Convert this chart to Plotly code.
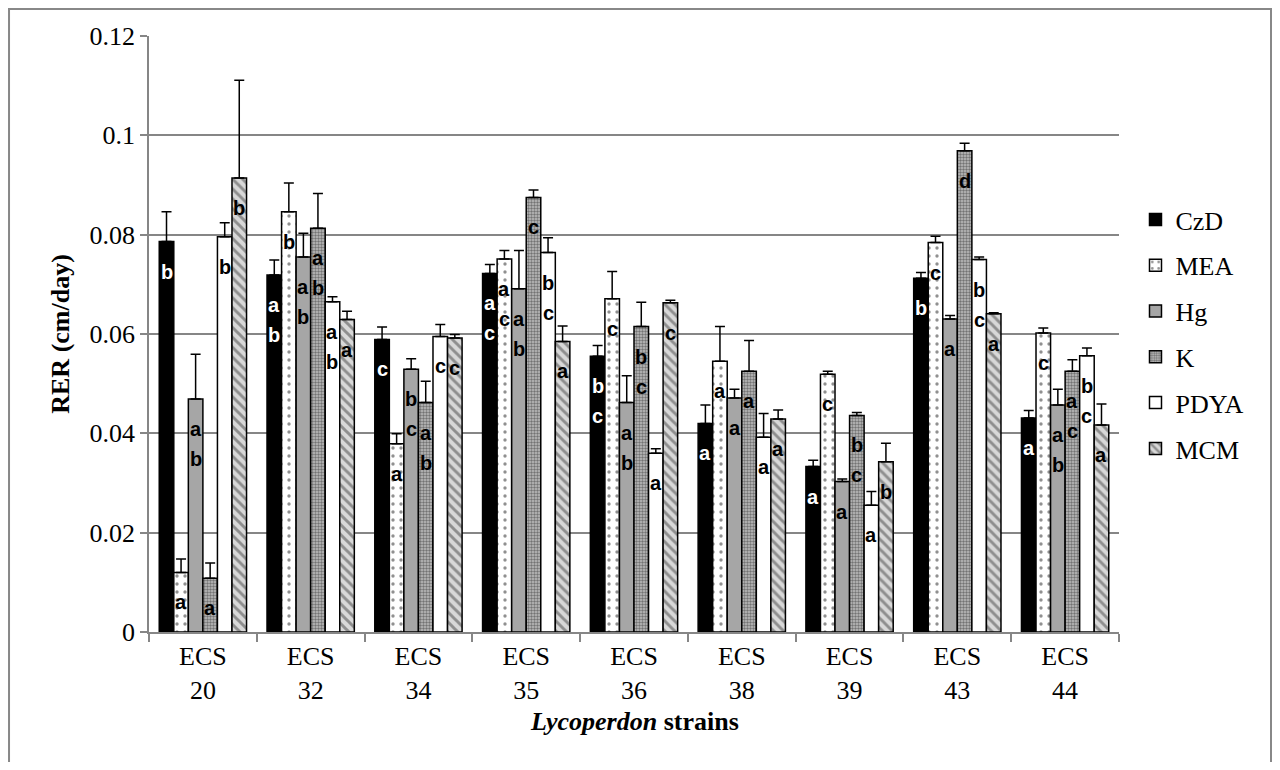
import plotly.graph_objects as go

categories = ["ECS 20", "ECS 32", "ECS 34", "ECS 35", "ECS 36", "ECS 38", "ECS 39", "ECS 43", "ECS 44"]
tick_labels = ["ECS<br>20", "ECS<br>32", "ECS<br>34", "ECS<br>35", "ECS<br>36", "ECS<br>38", "ECS<br>39", "ECS<br>43", "ECS<br>44"]

czd = [0.0786, 0.0719, 0.0589, 0.0722, 0.0555, 0.0420, 0.0333, 0.0712, 0.0431]
czd_err = [0.0060, 0.0030, 0.0025, 0.0018, 0.0022, 0.0037, 0.0013, 0.0012, 0.0015]
czd_lbl = ["b", "ab", "c", "ac", "bc", "a", "a", "b", "a"]

mea = [0.0120, 0.0846, 0.0379, 0.0751, 0.0671, 0.0545, 0.0519, 0.0784, 0.0602]
mea_err = [0.0027, 0.0058, 0.0020, 0.0017, 0.0055, 0.0070, 0.0006, 0.0013, 0.0010]
mea_lbl = ["a", "b", "a", "ac", "c", "a", "c", "c", "c"]

hg = [0.0469, 0.0755, 0.0529, 0.0691, 0.0462, 0.0471, 0.0303, 0.0630, 0.0457]
hg_err = [0.0090, 0.0048, 0.0021, 0.0077, 0.0054, 0.0018, 0.0005, 0.0007, 0.0032]
hg_lbl = ["ab", "ab", "bc", "ab", "ab", "a", "a", "a", "ab"]

k = [0.0108, 0.0813, 0.0462, 0.0875, 0.0615, 0.0525, 0.0436, 0.0969, 0.0525]
k_err = [0.0031, 0.0070, 0.0043, 0.0015, 0.0049, 0.0062, 0.0006, 0.0015, 0.0023]
k_lbl = ["a", "ab", "ab", "c", "bc", "a", "bc", "d", "ac"]

pdya = [0.0796, 0.0665, 0.0595, 0.0764, 0.0360, 0.0392, 0.0255, 0.0750, 0.0556]
pdya_err = [0.0028, 0.0010, 0.0024, 0.0030, 0.0009, 0.0048, 0.0028, 0.0005, 0.0016]
pdya_lbl = ["b", "ab", "c", "bc", "a", "a", "a", "bc", "bc"]

mcm = [0.0914, 0.0629, 0.0592, 0.0585, 0.0663, 0.0429, 0.0343, 0.0641, 0.0417]
mcm_err = [0.0197, 0.0017, 0.0007, 0.0031, 0.0005, 0.0018, 0.0037, 0.0002, 0.0042]
mcm_lbl = ["b", "a", "c", "a", "c", "a", "b", "a", "a"]

y_ticks = [0, 0.02, 0.04, 0.06, 0.08, 0.1, 0.12]
y_tick_text = ["0", "0.02", "0.04", "0.06", "0.08", "0.1", "0.12"]

series = [
    ("CzD", czd, czd_err, czd_lbl, dict(color="#000000"), "white"),
    ("MEA", mea, mea_err, mea_lbl, dict(color="white", pattern=dict(shape=".", bgcolor="white", fgcolor="#222222", size=8, solidity=0.14)), "black"),
    ("Hg", hg, hg_err, hg_lbl, dict(color="#a6a6a6"), "black"),
    ("K", k, k_err, k_lbl, dict(color="#a0a0a0", pattern=dict(shape=".", bgcolor="#c0c0c0", fgcolor="#262626", size=3, solidity=0.52)), "black"),
    ("PDYA", pdya, pdya_err, pdya_lbl, dict(color="white"), "black"),
    ("MCM", mcm, mcm_err, mcm_lbl, dict(color="#d9d9d9", pattern=dict(shape="\\", bgcolor="#d8d8d8", fgcolor="#444444", size=7, solidity=0.42)), "black"),
]

BARGAP = 0.19
grid = "#868686"
serif = "Liberation Serif, Times New Roman, serif"
sans = "Liberation Sans, Arial, sans-serif"

fig = go.Figure()
for name, vals, errs, lbls, marker, lc in series:
    m = dict(marker)
    m["line"] = dict(color="black", width=1.5)
    fig.add_trace(go.Bar(
        name=name, x=categories, y=vals, marker=m,
        legendgroup=name,
        error_y=dict(type="data", array=errs, arrayminus=[0] * len(errs), symmetric=False,
                     color="black", thickness=1.5, width=5),
    ))

w = (1 - BARGAP) / len(series)
annotations = []
for j, (name, vals, errs, lbls, marker, lc) in enumerate(series):
    for i, (v, lab) in enumerate(zip(vals, lbls)):
        for kk, ch in enumerate(lab):
            annotations.append(dict(
                x=i + (j - (len(series) - 1) / 2) * w, y=v, xref="x", yref="y",
                text="<b>" + ch + "</b>", showarrow=False, yanchor="middle", xanchor="center",
                yshift=-30 * (kk + 1), font=dict(family=sans, size=20, color=lc)))

annotations.append(dict(x=-0.092, y=0.5, xref="paper", yref="paper", text="<b>RER (cm/day)</b>",
                        textangle=-90, showarrow=False, xanchor="center", yanchor="middle",
                        font=dict(family=serif, size=26, color="black")))
annotations.append(dict(x=0.5, y=-0.151, xref="paper", yref="paper",
                        text="<b><i>Lycoperdon</i> strains</b>", showarrow=False,
                        xanchor="center", yanchor="middle", font=dict(family=serif, size=26, color="black")))

fig.update_layout(
    width=1264, height=754,
    margin=dict(l=141, r=153, t=28, b=130),
    paper_bgcolor="white", plot_bgcolor="white",
    barmode="group", bargap=BARGAP, bargroupgap=0,
    font=dict(family=serif, size=26, color="black"),
    showlegend=True,
    legend=dict(x=1.017, xanchor="left", y=0.5, yanchor="middle", tracegroupgap=9,
                font=dict(family=serif, size=26, color="black"), bgcolor="rgba(0,0,0,0)"),
    annotations=annotations,
    shapes=[dict(type="rect", xref="paper", yref="paper", x0=-0.1443, x1=1.1567, y0=-0.26, y1=1.0453,
                 line=dict(color="#888888", width=2), fillcolor="rgba(0,0,0,0)", layer="below")],
)
fig.update_xaxes(type="category", tickvals=categories, ticktext=tick_labels, tickson="boundaries",
                 ticks="outside", ticklen=8, tickcolor=grid, tickwidth=1.5,
                 showline=True, linecolor=grid, linewidth=1.5, showgrid=False,
                 tickfont=dict(family=serif, size=26, color="black"))
fig.update_yaxes(range=[0, 0.12], tickvals=y_ticks, ticktext=y_tick_text,
                 ticks="outside", ticklen=7, tickcolor=grid, tickwidth=1.5,
                 showline=True, linecolor=grid, linewidth=1.5,
                 showgrid=True, gridcolor=grid, gridwidth=1.5, zeroline=False,
                 tickfont=dict(family=serif, size=26, color="black"))

fig.write_html("out.html")
